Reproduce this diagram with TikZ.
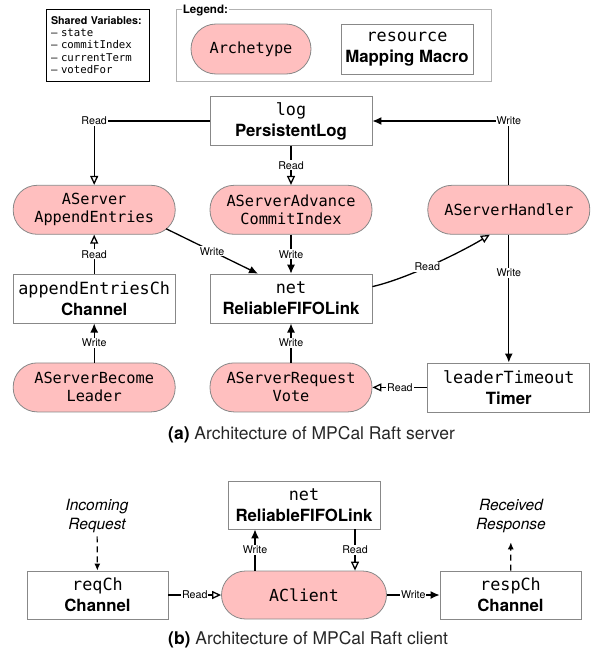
\documentclass[tikz,border=0pt]{standalone}
\usepackage{fontspec}
\setmainfont{TeX Gyre Heros}
\setmonofont{DejaVu Sans Mono}
\usepackage{tikz}
\usetikzlibrary{positioning,arrows.meta}
\definecolor{archpink}{RGB}{255,191,191}
\definecolor{boxgray}{RGB}{136,136,136}
\tikzstyle{archetype}=[draw=boxgray, line width=0.8pt, fill=archpink, rounded corners=24pt, minimum width=162pt, minimum height=49pt, align=center, font=\ttfamily\fontsize{15.3}{18}\selectfont]
\tikzstyle{macro}=[draw=boxgray, line width=0.8pt, fill=white, minimum width=162pt, minimum height=49pt, align=center, font=\fontsize{16.8}{21}\selectfont]
\tikzstyle{lbl}=[fill=white, inner sep=1pt, font=\fontsize{10.7}{12}\selectfont]
\tikzstyle{wr}=[-{Latex[length=9pt,width=8pt]}, line width=1.3pt]
\tikzstyle{rd}=[-{Triangle[open,length=9pt,width=8pt]}, line width=1.3pt]
\tikzstyle{flow}=[dash pattern=on 6pt off 4pt, -{Latex[length=7pt,width=6pt]}, line width=1.2pt]

\begin{document}
\begin{tikzpicture}[x=1pt, y=-1pt]
	\useasboundingbox (0,0) rectangle (594,653);
	% shared variables and legend
	\node[draw, line width=0.9pt, text width=93pt, minimum height=72pt, align=left, inner sep=5pt, font=\fontsize{10.7}{12.3}\selectfont] (shared) at (97.5,45) {\textbf{Shared Variables:}\\\texttt{– state}\\\texttt{– commitIndex}\\\texttt{– currentTerm}\\\texttt{– votedFor}};
	\node[draw=gray!60, line width=0.8pt, minimum width=315pt, minimum height=72pt] (legend) at (333.5,45) {};
	\node[fill=white, inner sep=1pt, anchor=west, font=\bfseries\fontsize{11.6}{13}\selectfont] (legendTitle) at ([xshift=6pt,yshift=-2pt]legend.north west) {Legend:};
	\node[archetype, minimum width=120pt, minimum height=50pt, rounded corners=25pt] (legArch) at (251,49) {Archetype};
	\node[macro, minimum width=132pt, minimum height=50pt] (legMacro) at (407,49) {{\ttfamily resource}\\\textbf{Mapping Macro}};

	% (a) server
	\node[macro] (log) at (291,121) {{\ttfamily log}\\\textbf{PersistentLog}};
	\node[archetype, below=39pt of log] (advanceCommit) {AServerAdvance\\CommitIndex};
	\node[archetype, left=34pt of advanceCommit] (appendEntries) {AServer\\AppendEntries};
	\node[archetype, right=55pt of advanceCommit] (handler) {AServerHandler};
	\node[macro, below=39pt of advanceCommit] (net) {{\ttfamily net}\\\textbf{ReliableFIFOLink}};
	\node[macro, below=39pt of appendEntries] (appendCh) {{\ttfamily appendEntriesCh}\\\textbf{Channel}};
	\node[archetype, below=39pt of appendCh] (becomeLeader) {AServerBecome\\Leader};
	\node[archetype, below=39pt of net] (requestVote) {AServerRequest\\Vote};
	\node[macro, right=55pt of requestVote] (timer) {{\ttfamily leaderTimeout}\\\textbf{Timer}};

	\draw[rd] (log.west) -| node[lbl, pos=0.5] {Read} (appendEntries.north);
	\draw[rd] (log) -- node[lbl] {Read} (advanceCommit);
	\draw[wr] (handler) |- node[lbl, pos=0.5] {Write} (log);
	\draw[wr] ([shift={(72pt,-19pt)}]appendEntries.center) -- node[lbl] {Write} ([xshift=-33pt]net.north);
	\draw[wr] (advanceCommit) -- node[lbl] {Write} (net);
	\draw[rd] ([yshift=12pt]net.east) .. controls +(35,-8) and +(-28,17) .. node[lbl, pos=0.45] {Read} ([xshift=-19pt]handler.south);
	\draw[wr] (handler) -- node[lbl, pos=0.3] {Write} (timer);
	\draw[rd] (timer) -- node[lbl] {Read} (requestVote);
	\draw[wr] (requestVote) -- node[lbl] {Write} (net);
	\draw[rd] (appendCh) -- node[lbl] {Read} (appendEntries);
	\draw[wr] (becomeLeader) -- node[lbl] {Write} (appendCh);

	\node[anchor=west, inner sep=0pt, font=\fontsize{17.5}{20}\selectfont] (captionA) at (168,435) {\textbf{(a)} \textcolor{black!85}{Architecture of MPCal Raft server}};

	% (b) client
	\node[macro, minimum width=152pt, minimum height=48pt] (clientNet) at (304,505) {{\ttfamily net}\\\textbf{ReliableFIFOLink}};
	\node[archetype, minimum width=165pt, minimum height=48pt, font=\ttfamily\fontsize{16.6}{18}\selectfont] (client) at (304,595) {AClient};
	\node[macro, minimum width=141pt, minimum height=48pt] (reqCh) at (97.5,595) {{\ttfamily reqCh}\\\textbf{Channel}};
	\node[macro, minimum width=141pt, minimum height=48pt] (respCh) at (510.5,595) {{\ttfamily respCh}\\\textbf{Channel}};
	\node[align=center, font=\itshape\fontsize{15.5}{19}\selectfont] (incoming) at (97,516) {Incoming\\Request};
	\node[align=center, font=\itshape\fontsize{15.5}{19}\selectfont] (received) at (511,516) {Received\\Response};

	\draw[flow] (incoming) -- (reqCh);
	\draw[rd] (reqCh) -- node[lbl] {Read} (client);
	\draw[wr] (client) -- node[lbl] {Write} (respCh);
	\draw[wr] ([xshift=-49pt]client.north) -- node[lbl] {Write} ([xshift=-49pt]clientNet.south);
	\draw[rd] ([xshift=51pt]clientNet.south) -- node[lbl] {Read} ([xshift=51pt]client.north);
	\draw[flow, shorten >=6pt] (respCh) -- (received);

	\node[anchor=west, inner sep=0pt, font=\fontsize{17.5}{20}\selectfont] (captionB) at (168,640) {\textbf{(b)} \textcolor{black!85}{Architecture of MPCal Raft client}};
\end{tikzpicture}
\end{document}
